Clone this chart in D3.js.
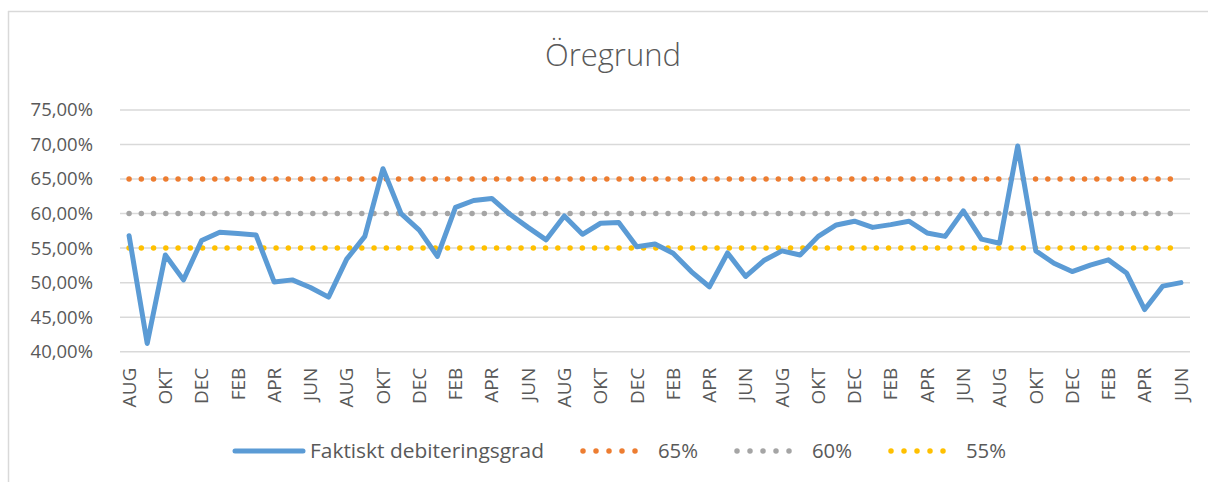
<!DOCTYPE html>
<html>
<head>
<meta charset="utf-8">
<script src="https://cdn.jsdelivr.net/npm/d3@7"></script>
<style>
  html, body { margin: 0; padding: 0; background: #fff; }
  svg { display: block; }
  text { font-family: "Open Sans", "Noto Sans", sans-serif; fill: #595959; }
</style>
</head>
<body>
<svg id="chart" width="1208" height="482"></svg>
<script>
const title = "Öregrund";
const categories = [
  "AUG","SEP","OKT","NOV","DEC","JAN","FEB","MAR","APR","MAJ","JUN","JUL",
  "AUG","SEP","OKT","NOV","DEC","JAN","FEB","MAR","APR","MAJ","JUN","JUL",
  "AUG","SEP","OKT","NOV","DEC","JAN","FEB","MAR","APR","MAJ","JUN","JUL",
  "AUG","SEP","OKT","NOV","DEC","JAN","FEB","MAR","APR","MAJ","JUN","JUL",
  "AUG","SEP","OKT","NOV","DEC","JAN","FEB","MAR","APR","MAJ","JUN"
];
const actual = [
  56.8, 41.2, 54.0, 50.4, 56.1, 57.3, 57.1, 56.9, 50.1, 50.4, 49.3, 47.9,
  53.4, 56.7, 66.5, 60.0, 57.6, 53.8, 60.9, 61.9, 62.2, 59.9, 58.0, 56.2,
  59.65, 57.0, 58.6, 58.7, 55.2, 55.6, 54.25, 51.6, 49.4, 54.3, 50.9, 53.2,
  54.6, 54.0, 56.7, 58.35, 58.9, 58.0, 58.4, 58.9, 57.2, 56.7, 60.4, 56.3,
  55.7, 69.8, 54.6, 52.8, 51.6, 52.55, 53.3, 51.4, 46.1, 49.5, 50.0
];
const targetNames = ["65%", "60%", "55%"];
const targetValues = [65, 60, 55];
const targetColors = ["#ed7d31", "#a5a5a5", "#ffc000"];
const seriesName = "Faktiskt debiteringsgrad";
const yTicks = [40, 45, 50, 55, 60, 65, 70, 75];

const svg = d3.select("#chart");

// chart border (top and left visible)
svg.append("line").attr("x1", 8).attr("x2", 1208).attr("y1", 11.5).attr("y2", 11.5)
  .attr("stroke", "#d9d9d9").attr("stroke-width", 1.5);
svg.append("line").attr("x1", 8.5).attr("x2", 8.5).attr("y1", 11).attr("y2", 482)
  .attr("stroke", "#d9d9d9").attr("stroke-width", 1.5);

const plot = { left: 120, right: 1190, top: 110, bottom: 351.7 };

const x = d3.scaleBand().domain(d3.range(categories.length))
  .range([plot.left, plot.right]).paddingInner(0).paddingOuter(0);
const cx = i => x(i) + x.bandwidth() / 2;
const y = d3.scaleLinear().domain([40, 75]).range([plot.bottom, plot.top]);

// title
svg.append("text").attr("x", 613).attr("y", 66).attr("text-anchor", "middle")
  .style("font-size", "31px").style("font-weight", 300).text(title);

// gridlines
svg.append("g").selectAll("line").data(yTicks).join("line")
  .attr("x1", plot.left).attr("x2", plot.right)
  .attr("y1", d => y(d)).attr("y2", d => y(d))
  .attr("stroke", "#d9d9d9").attr("stroke-width", 1.5);

// y axis labels
const yAxis = d3.axisLeft(y).tickValues(yTicks).tickSize(0).tickPadding(0)
  .tickFormat(d => d3.format(".2f")(d).replace(".", ",") + "%");
const gy = svg.append("g").attr("transform", `translate(93,0)`).call(yAxis);
gy.select(".domain").remove();
gy.selectAll("text").style("font-size", "18.5px").attr("fill", "#595959")
  .style("font-family", '"Open Sans", sans-serif');

// x axis labels (every second category)
const xAxis = d3.axisBottom(x)
  .tickValues(d3.range(0, categories.length, 2))
  .tickFormat(i => categories[i]).tickSize(0).tickPadding(0);
const gx = svg.append("g").attr("transform", `translate(0,${plot.bottom})`).call(xAxis);
gx.select(".domain").remove();
gx.selectAll("text")
  .attr("transform", "rotate(-90)")
  .attr("x", -16).attr("y", 0).attr("dy", "0.35em")
  .attr("text-anchor", "end")
  .style("font-size", "19px").attr("fill", "#595959")
  .style("font-family", '"Open Sans", sans-serif');

// target dotted lines
const lineGen = d3.line().x((d, i) => cx(i)).y(d => y(d));
targetValues.forEach((v, k) => {
  svg.append("path")
    .attr("d", lineGen(categories.map(() => v)))
    .attr("fill", "none").attr("stroke", targetColors[k])
    .attr("stroke-width", 5.5).attr("stroke-linecap", "round")
    .attr("stroke-dasharray", "0 12.25");
});

// actual line
svg.append("path")
  .attr("d", lineGen(actual))
  .attr("fill", "none").attr("stroke", "#5b9bd5")
  .attr("stroke-width", 5).attr("stroke-linejoin", "round").attr("stroke-linecap", "round");

// legend
const ly = 451;
const legend = svg.append("g");
legend.append("line").attr("x1", 235).attr("x2", 303).attr("y1", ly).attr("y2", ly)
  .attr("stroke", "#5b9bd5").attr("stroke-width", 5).attr("stroke-linecap", "round");
legend.append("text").attr("x", 310).attr("y", ly).attr("dy", "0.35em")
  .style("font-size", "19.5px")
  .attr("textLength", 234).attr("lengthAdjust", "spacingAndGlyphs")
  .text(seriesName);
const legX = [583, 737, 891];
targetNames.forEach((n, k) => {
  legend.append("line").attr("x1", legX[k]).attr("x2", legX[k] + 65)
    .attr("y1", ly).attr("y2", ly)
    .attr("stroke", targetColors[k]).attr("stroke-width", 5.5)
    .attr("stroke-linecap", "round").attr("stroke-dasharray", "0 13");
  legend.append("text").attr("x", legX[k] + 75).attr("y", ly).attr("dy", "0.35em")
    .style("font-size", "19.5px")
    .attr("textLength", 40).attr("lengthAdjust", "spacingAndGlyphs")
    .text(n);
});
</script>
</body>
</html>
